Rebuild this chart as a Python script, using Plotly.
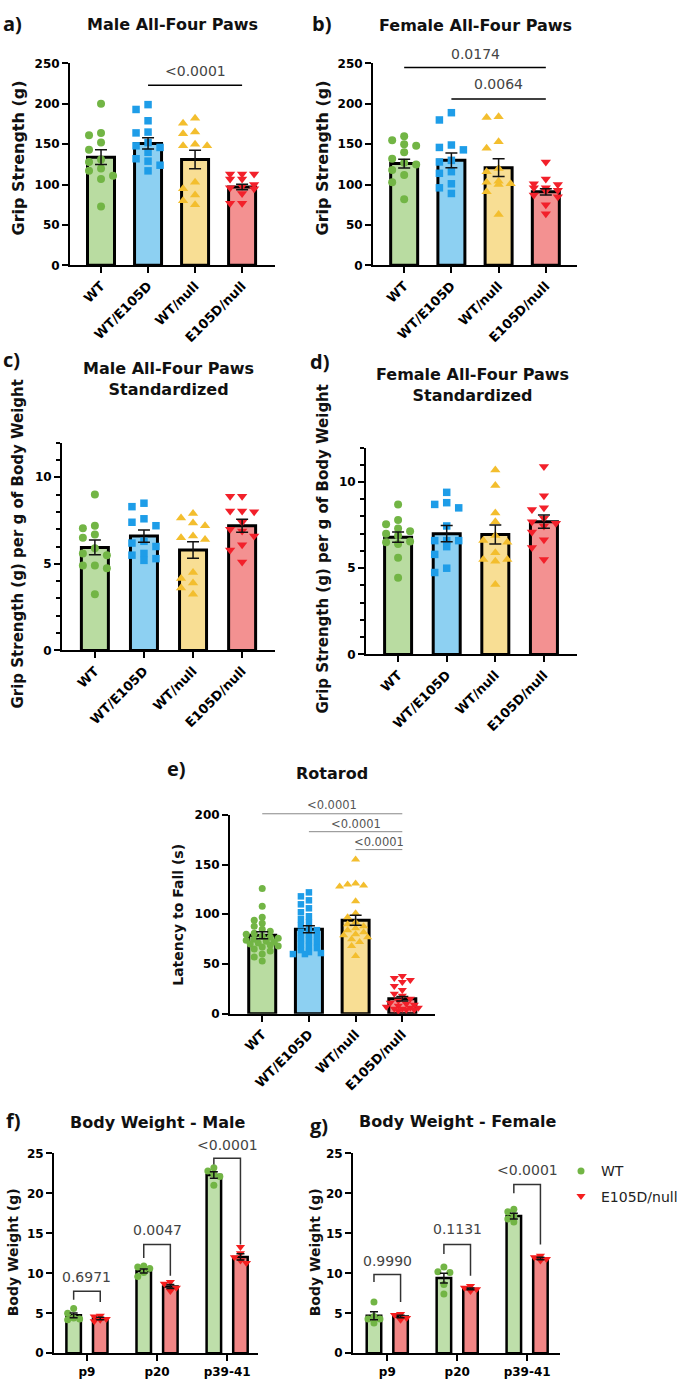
import plotly.graph_objects as go

W, H = 685, 1389
FONT = "DejaVu Sans"

categories = ["WT", "WT/E105D", "WT/null", "E105D/null"]
ages = ["p9", "p20", "p39-41"]
legend_names = ["WT", "E105D/null"]

# ---------------- data ----------------
# a) Male all-four paws grip strength (g)
a_mean = [134, 151, 131, 97]
a_sem = [9, 7, 11.5, 3.5]
a_wt = [200, 164, 161, 152, 143, 131, 128, 120, 117, 111, 107, 73]
a_wte = [199, 193, 179, 165, 164, 152, 148, 146, 140, 132, 129, 124, 117]
a_wtnull = [182, 176, 165, 163, 150, 148, 148, 103, 95, 87, 80, 75]
a_enull = [113, 113, 113, 107, 107, 100, 98, 96, 95, 89, 77, 77]

# b) Female all-four paws grip strength (g)
b_mean = [126, 130, 121, 91]
b_sem = [5.5, 9, 11, 4]
b_wt = [160, 155, 150, 148, 140, 132, 127, 125, 118, 112, 103, 82]
b_wte = [189, 180, 149, 146, 143, 130, 128, 116, 114, 101, 96, 89]
b_wtnull = [184, 183, 153, 145, 120, 116, 104, 103, 101, 100, 91, 63]
b_enull = [128, 107, 101, 100, 96, 96, 93, 92, 87, 85, 75, 64]

# c) Male standardized (g per g body weight)
c_mean = [5.95, 6.6, 5.8, 7.2]
c_sem = [0.42, 0.35, 0.48, 0.38]
c_wt = [9.0, 7.2, 7.05, 6.7, 6.5, 5.9, 5.6, 5.5, 4.9, 4.9, 4.75, 3.25]
c_wte = [8.5, 8.3, 7.6, 7.4, 7.2, 6.3, 6.2, 6.0, 5.6, 5.5, 5.3, 5.2]
c_wtnull = [7.9, 7.65, 7.35, 7.2, 6.6, 6.5, 6.4, 4.5, 4.15, 3.9, 3.6, 3.25]
c_enull = [8.9, 8.9, 8.05, 8.05, 8.0, 7.4, 7.0, 6.9, 6.6, 6.1, 5.8, 5.1]

# d) Female standardized
d_mean = [6.8, 7.0, 6.95, 7.7]
d_sem = [0.3, 0.47, 0.55, 0.38]
d_wt = [8.7, 7.8, 7.55, 7.3, 7.15, 7.0, 6.9, 6.55, 6.5, 6.4, 5.6, 4.45]
d_wte = [9.4, 8.8, 8.7, 8.5, 7.45, 6.6, 6.6, 6.6, 6.25, 5.8, 5.0, 4.75]
d_wtnull = [10.7, 9.8, 8.2, 7.7, 6.9, 6.6, 6.5, 5.9, 5.5, 5.5, 5.4, 4.05]
d_enull = [10.9, 9.2, 8.5, 8.4, 7.9, 7.7, 7.6, 7.45, 7.1, 6.65, 6.2, 5.5]

# e) Rotarod latency to fall (s)
e_mean = [79, 85, 94, 15]
e_sem = [3.5, 3.5, 5, 2.3]
e_wt = [126, 108, 97, 94, 91, 88, 85, 83, 81, 80, 78, 77, 76, 75, 74, 73, 72, 71,
        70, 69, 68, 67, 65, 63, 60, 57, 53]
e_wte = [122, 118, 114, 110, 106, 102, 98, 95, 92, 89, 86, 84, 82, 80, 78, 76, 74,
         72, 70, 68, 66, 64, 62, 61, 60, 60]
e_wtnull = [155, 131, 130, 129, 128, 113, 101, 97, 92, 90, 88, 86, 84, 82, 80, 79,
            77, 75, 72, 68, 58]
e_enull = [38, 36, 34, 32, 28, 24, 20, 18, 15, 13, 11, 10, 9, 8, 7, 6, 6, 5, 5, 4, 4, 3]

# f) Body weight male (g)
f_wt_mean = [4.75, 10.3, 22.3]
f_wt_sem = [0.3, 0.25, 0.4]
f_en_mean = [4.35, 8.35, 12.05]
f_en_sem = [0.15, 0.25, 0.4]
f_wt = [[5.6, 5.0, 4.4, 4.3, 4.2], [10.9, 10.8, 10.6, 10.1, 9.6], [23.2, 22.8, 22.4, 22.1, 21.0]]
f_en = [[4.7, 4.6, 4.3, 4.2, 4.0], [8.9, 8.7, 8.2, 7.8], [13.3, 12.5, 12.0, 11.6, 11.3]]

# g) Body weight female (g)
g_wt_mean = [4.7, 9.4, 17.15]
g_wt_sem = [0.5, 0.6, 0.35]
g_en_mean = [4.6, 8.05, 11.85]
g_en_sem = [0.15, 0.12, 0.15]
g_wt = [[6.4, 4.6, 4.3, 4.3, 3.8], [10.8, 10.2, 10.1, 8.6, 7.4], [18.0, 17.7, 17.2, 16.8, 16.4]]
g_en = [[4.9, 4.8, 4.4, 4.2], [8.4, 8.2, 8.0, 7.8], [12.2, 12.0, 11.8, 11.6]]

# significance comparisons: (from index, to index, line level, label, label level)
a_sig = [(1, 3, 223, "<0.0001", 241)]
b_sig = [(0, 3, 245, "0.0174", 262), (1, 3, 206, "0.0064", 224)]
e_sig = [(0, 3, 201, "<0.0001", 210), (1, 3, 183, "<0.0001", 191), (2, 3, 165, "<0.0001", 173)]
# brackets: (group, left-leg bottom, top, right-leg bottom, label, label level)
f_brk = [(0, 6.7, 7.75, 6.4, "0.6971", 9.6), (1, 11.9, 13.6, 9.7, "0.0047", 15.4),
         (2, 23.6, 24.4, 13.6, "<0.0001", 26.1)]
g_brk = [(0, 8.9, 9.85, 6.4, "0.9990", 11.6), (1, 12.4, 13.6, 9.7, "0.1131", 15.5),
         (2, 20.0, 21.1, 13.6, "<0.0001", 22.9)]

# ---------------- styling ----------------
bar_cols = ["#B9DCA1", "#8DD0F2", "#F8DE94", "#F39191"]
pt_cols = ["#72B545", "#1E9DE8", "#F3BE2E", "#F2202A"]
symbols = ["circle", "square", "triangle-up", "triangle-down"]
bw_bar = ["#BEDFAA", "#F28585"]
bw_pt = ["#72B545", "#F51E1E"]
bw_sym = ["circle", "triangle-down"]

cfg = {
    "a": dict(n="", ov="8", dx=(70, 275), dy=(57, 261), xr=(-0.66, 3.70), yr=(0, 250), dtick=50, minor=None),
    "b": dict(n="2", ov="9", dx=(373, 577), dy=(57, 261), xr=(-0.66, 3.66), yr=(0, 250), dtick=50, minor=None),
    "c": dict(n="3", ov=None, dx=(62, 275), dy=(440, 650), xr=(-0.67, 3.67), yr=(0, 12), dtick=5, minor=1),
    "d": dict(n="4", ov=None, dx=(366, 577), dy=(445, 654), xr=(-0.66, 3.68), yr=(0, 12), dtick=5, minor=1),
    "e": dict(n="5", ov="10", dx=(230, 435), dy=(816, 1017), xr=(-0.69, 3.70), yr=(0, 200), dtick=50, minor=None),
    "f": dict(n="6", ov="11", dx=(54, 258), dy=(1158, 1360), xr=(-0.47, 2.44), yr=(0, 25), dtick=5, minor=None),
    "g": dict(n="7", ov="12", dx=(353, 560), dy=(1158, 1360), xr=(-0.49, 2.47), yr=(0, 25), dtick=5, minor=None),
}
OV_EXTRA = 45  # px of extra room above each panel for comparison marks


def scales(c):
    xpx = (c["dx"][1] - c["dx"][0]) / (c["xr"][1] - c["xr"][0])
    ypx = (c["dy"][1] - c["dy"][0]) / (c["yr"][1] - c["yr"][0])
    return xpx, ypx


def swarm(values, ypx, step, mind, maxk):
    """Deterministic beeswarm offsets (px), limited to +-maxk columns."""
    placed = []
    res = [0.0] * len(values)
    order = sorted(range(len(values)), key=lambda i: -values[i])
    cands = [0]
    for j in range(1, maxk + 1):
        cands += [-j, j]
    for i in order:
        y = values[i] * ypx
        best, bestd = 0, -1
        chosen = None
        for k in cands:
            xo = k * step
            dmin = min([((xo - px) ** 2 + (y - py) ** 2) ** 0.5 for px, py in placed] or [1e9])
            if dmin >= mind:
                chosen = xo
                break
            if dmin > bestd:
                best, bestd = xo, dmin
        if chosen is None:
            chosen = best
        placed.append((chosen, y))
        res[i] = chosen
    return res


fig = go.Figure()
layout = {}
annotations = []

for key, c in cfg.items():
    n = c["n"]
    xa = dict(domain=[c["dx"][0] / W, c["dx"][1] / W], range=list(c["xr"]), anchor="y" + n,
              showline=True, linecolor="black", linewidth=2, ticks="outside", ticklen=6,
              tickwidth=2, tickcolor="black", showgrid=False, zeroline=False, fixedrange=True,
              tickfont=dict(family=FONT, size=13, color="black", weight="bold"))
    if key in ("f", "g"):
        xa.update(tickmode="array", tickvals=list(range(len(ages))), ticktext=ages, tickangle=0,
                  tickfont=dict(family=FONT, size=12, color="black", weight="bold"))
    else:
        xa.update(tickmode="array", tickvals=list(range(len(categories))), ticktext=categories,
                  tickangle=-45)
    ya = dict(domain=[1 - c["dy"][1] / H, 1 - c["dy"][0] / H], range=list(c["yr"]), anchor="x" + n,
              showline=True, linecolor="black", linewidth=2, ticks="outside", ticklen=6,
              tickwidth=2, tickcolor="black", showgrid=False, zeroline=False, fixedrange=True,
              tick0=0, dtick=c["dtick"],
              tickfont=dict(family=FONT, size=12, color="black", weight="bold"))
    if c["minor"]:
        ya["minor"] = dict(dtick=c["minor"], ticks="outside", ticklen=4, tickwidth=1.5,
                           tickcolor="black", showgrid=False)
    layout["xaxis" + n] = xa
    layout["yaxis" + n] = ya
    # hidden, taller axes with the same scale for comparison lines / p-values
    if c["ov"]:
        o = c["ov"]
        top = c["dy"][0] - OV_EXTRA
        layout["xaxis" + o] = dict(domain=[c["dx"][0] / W, c["dx"][1] / W], range=list(c["xr"]),
                                   anchor="y" + o, visible=False, fixedrange=True)
        layout["yaxis" + o] = dict(domain=[1 - c["dy"][1] / H, 1 - top / H],
                                   range=[0, c["yr"][1] * (c["dy"][1] - top) / (c["dy"][1] - c["dy"][0])],
                                   anchor="x" + o, visible=False, fixedrange=True)

# ---------------- four-group panels a-e ----------------
# (means, sems, points, marker size, swarm step px, min distance px, max columns)
group_data = {
    "a": (a_mean, a_sem, [a_wt, a_wte, a_wtnull, a_enull], 8, 12, 8, 1),
    "b": (b_mean, b_sem, [b_wt, b_wte, b_wtnull, b_enull], 8, 12, 8, 1),
    "c": (c_mean, c_sem, [c_wt, c_wte, c_wtnull, c_enull], 8, 12, 8, 1),
    "d": (d_mean, d_sem, [d_wt, d_wte, d_wtnull, d_enull], 8, 12, 8, 1),
    "e": (e_mean, e_sem, [e_wt, e_wte, e_wtnull, e_enull], 7, 4, 6, 4),
}
for key, (means, sems, pts, msize, step, mind, maxk) in group_data.items():
    c = cfg[key]
    n = c["n"]
    xpx, ypx = scales(c)
    bw = (30 - 3) / xpx
    fig.add_trace(go.Bar(x=list(range(len(categories))), y=means, width=bw,
                         marker=dict(color=bar_cols, line=dict(color="black", width=3)),
                         xaxis="x" + n, yaxis="y" + n, showlegend=False, hoverinfo="skip"))
    for i, vals in enumerate(pts):
        offs = swarm(vals, ypx, step, mind, maxk)
        sz = msize + (1 if symbols[i].startswith("triangle") else 0) - (0.5 if symbols[i] == "square" else 0)
        fig.add_trace(go.Scatter(x=[i + o / xpx for o in offs], y=vals, mode="markers",
                                 marker=dict(symbol=symbols[i], size=sz, color=pt_cols[i],
                                             line=dict(width=0)),
                                 xaxis="x" + n, yaxis="y" + n, showlegend=False, cliponaxis=False,
                                 hoverinfo="skip"))
    fig.add_trace(go.Scatter(x=list(range(len(categories))), y=means, mode="markers",
                             marker=dict(size=1, color="rgba(0,0,0,0)"),
                             error_y=dict(type="data", array=sems, visible=True, color="#111",
                                          thickness=1.5, width=6),
                             xaxis="x" + n, yaxis="y" + n, showlegend=False, hoverinfo="skip"))

# significance lines a, b, e
for key, sig, lcol, lw, fsz, tcol in (("a", a_sig, "black", 1.5, 14, "#444"),
                                      ("b", b_sig, "black", 1.5, 14, "#444"),
                                      ("e", e_sig, "#888", 1, 11.5, "#555")):
    o = cfg[key]["ov"]
    for i0, i1, lv, lab, tl in sig:
        fig.add_trace(go.Scatter(x=[i0, i1], y=[lv, lv], mode="lines", line=dict(color=lcol, width=lw),
                                 xaxis="x" + o, yaxis="y" + o, showlegend=False, hoverinfo="skip"))
        annotations.append(dict(xref="x" + o, yref="y" + o, x=(i0 + i1) / 2, y=tl, text=lab,
                                showarrow=False, xanchor="center", yanchor="middle",
                                font=dict(family=FONT, size=fsz, color=tcol)))

# ---------------- body weight panels f, g ----------------
bw_data = {
    "f": ([f_wt_mean, f_en_mean], [f_wt_sem, f_en_sem], [f_wt, f_en], f_brk),
    "g": ([g_wt_mean, g_en_mean], [g_wt_sem, g_en_sem], [g_wt, g_en], g_brk),
}
for key, (means, sems, pts, brk) in bw_data.items():
    c = cfg[key]
    n = c["n"]
    o = c["ov"]
    xpx, ypx = scales(c)
    shift = 13.3 / xpx
    bwid = (17 - 2.5) / xpx
    for s in range(2):
        xs = [g + (2 * s - 1) * shift for g in range(len(ages))]
        fig.add_trace(go.Bar(x=xs, y=means[s], width=bwid,
                             marker=dict(color=bw_bar[s], line=dict(color="black", width=2.5)),
                             xaxis="x" + n, yaxis="y" + n, showlegend=False, hoverinfo="skip"))
    for s in range(2):
        px_, py_ = [], []
        for g in range(len(ages)):
            vals = pts[s][g]
            offs = swarm(vals, ypx, 6, 6, 1)
            px_ += [g + (2 * s - 1) * shift + off / xpx for off in offs]
            py_ += vals
        fig.add_trace(go.Scatter(x=px_, y=py_, mode="markers", name=legend_names[s],
                                 legendgroup=legend_names[s],
                                 marker=dict(symbol=bw_sym[s], size=7 + s, color=bw_pt[s],
                                             line=dict(width=0)),
                                 xaxis="x" + n, yaxis="y" + n, showlegend=(key == "g"),
                                 cliponaxis=False, hoverinfo="skip"))
    for s in range(2):
        xs = [g + (2 * s - 1) * shift for g in range(len(ages))]
        fig.add_trace(go.Scatter(x=xs, y=means[s], mode="markers",
                                 marker=dict(size=1, color="rgba(0,0,0,0)"),
                                 error_y=dict(type="data", array=sems[s], visible=True, color="#111",
                                              thickness=1.5, width=4),
                                 xaxis="x" + n, yaxis="y" + n, showlegend=False, hoverinfo="skip"))
    for g, lb, top, rb, lab, tl in brk:
        x0, x1 = g - shift, g + shift
        fig.add_trace(go.Scatter(x=[x0, x0, x1, x1], y=[lb, top, top, rb], mode="lines",
                                 line=dict(color="#333", width=1.5), xaxis="x" + o, yaxis="y" + o,
                                 showlegend=False, hoverinfo="skip"))
        annotations.append(dict(xref="x" + o, yref="y" + o, x=g, y=tl, text=lab, showarrow=False,
                                xanchor="center", yanchor="middle",
                                font=dict(family=FONT, size=14, color="#444")))

# ---------------- titles, panel letters, axis titles ----------------
titles = [
    ("Male All-Four Paws", 172, 18),
    ("Female All-Four Paws", 475, 19),
    ("Male All-Four Paws<br>Standardized", 168, 376),
    ("Female All-Four Paws<br>Standardized", 472, 382),
    ("Rotarod", 332, 774),
    ("Body Weight - Male", 158, 1127),
    ("Body Weight - Female", 457, 1126),
]
for txt, x, y in titles:
    annotations.append(dict(xref="paper", yref="paper", x=x / W, y=1 - y / H, text="<b>%s</b>" % txt,
                            showarrow=False, xanchor="center", yanchor="middle",
                            font=dict(family=FONT, size=16, color="#111")))

letters = [("a)", 12, 17), ("b)", 321, 17), ("c)", 11, 356), ("d)", 319, 358),
           ("e)", 176, 769), ("f)", 13, 1125), ("g)", 319, 1130)]
for txt, x, y in letters:
    annotations.append(dict(xref="paper", yref="paper", x=x / W, y=1 - y / H, text="<b>%s</b>" % txt,
                            showarrow=False, xanchor="center", yanchor="middle",
                            font=dict(family="Open Sans", size=20, color="#111")))

ytitles = [
    ("Grip Strength (g)", 18, 153, 16),
    ("Grip Strength (g)", 322, 153, 16),
    ("Grip Strength (g) per g of Body Weight", 18, 543, 15),
    ("Grip Strength (g) per g of Body Weight", 323, 548, 15),
    ("Latency to Fall (s)", 178, 917, 14),
    ("Body Weight (g)", 13, 1258, 14),
    ("Body Weight (g)", 315, 1258, 14),
]
for txt, x, y, fs in ytitles:
    annotations.append(dict(xref="paper", yref="paper", x=x / W, y=1 - y / H, text="<b>%s</b>" % txt,
                            showarrow=False, xanchor="center", yanchor="middle", textangle=-90,
                            font=dict(family=FONT, size=fs, color="#111")))

fig.update_layout(
    width=W, height=H, margin=dict(l=0, r=0, t=0, b=0, pad=0),
    paper_bgcolor="white", plot_bgcolor="rgba(0,0,0,0)", barmode="overlay",
    annotations=annotations, hovermode=False,
    legend=dict(x=561 / W, y=1 - 1160 / H, xanchor="left", yanchor="top",
                font=dict(family=FONT, size=14, color="#222"), bgcolor="rgba(0,0,0,0)",
                itemsizing="trace", traceorder="grouped", tracegroupgap=4),
    **layout,
)

fig.write_html("out.html", config={"displayModeBar": False},
               post_script="document.body.style.margin='0';document.body.style.overflow='hidden';")
